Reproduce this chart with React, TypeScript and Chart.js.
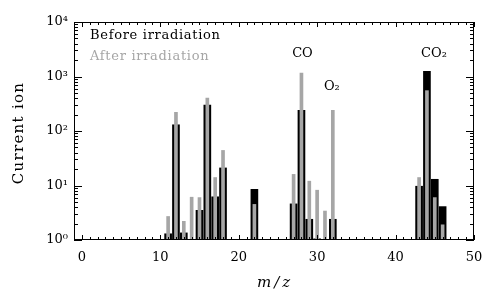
import React, { useEffect, useRef } from "react";
import { Chart, registerables } from "chart.js";

Chart.register(...registerables);

// ---- data ----
const massToCharge = [11, 12, 13, 14, 15, 16, 17, 18, 22, 27, 28, 29, 30, 31, 32, 43, 44, 45, 46];
const beforeIrradiation = [1.3, 130, 1.35, null, 3.5, 300, 6.2, 21, 8.5, 4.6, 240, 2.4, 1.05, null, 2.4, 9.7, 1250, 13, 4.1];
const afterIrradiation = [2.7, 220, 2.2, 6.1, 6, 400, 14, 44, 4.5, 16, 1150, 12, 8.2, 3.4, 240, 14, 550, 6, 1.9];
const xTickValues = [0, 10, 20, 30, 40, 50];
const yTickValues = [1, 10, 100, 1000, 10000];
const yTickLabels = ["10⁰", "10¹", "10²", "10³", "10⁴"];
const seriesNames = ["Before irradiation", "After irradiation"];
const peakLabels = ["CO", "O₂", "CO₂"];
const peakMz = [28, 32, 44];
const xTitle = "m/z";
const yTitle = "Current ion";

const GRAY = "#a6a6a6";
const FONT = "'DejaVu Serif', serif";

const decorPlugin = {
  id: "decor",
  afterDraw(chart: any) {
    const ctx: CanvasRenderingContext2D = chart.ctx;
    const a = chart.chartArea;
    const x = chart.scales.x;
    const y = chart.scales.y;
    ctx.save();
    ctx.fillStyle = "rgb(0,0,0)";
    const L = Math.round(a.left);
    const R = Math.round(a.right) - 1;
    const T = Math.round(a.top);
    const B = Math.round(a.bottom) - 1;
    // frame
    ctx.fillRect(L, T, R - L + 1, 1);
    ctx.fillRect(L, B, R - L + 1, 1);
    ctx.fillRect(L, T, 1, B - T + 1);
    ctx.fillRect(R, T, 1, B - T + 1);
    // x ticks (inward, bottom and top)
    for (let v = 0; v <= 50; v++) {
      const px = Math.round(x.getPixelForValue(v));
      const len = v % 10 === 0 ? 5 : 3;
      ctx.fillRect(px, B - len + 1, 1, len);
      ctx.fillRect(px, T, 1, len);
    }
    // y ticks (inward, left and right)
    for (let d = 0; d < 4; d++) {
      for (let k = 1; k <= 9; k++) {
        const v = k * Math.pow(10, d);
        const py = Math.round(y.getPixelForValue(v));
        const len = k === 1 ? 8 : 4;
        ctx.fillRect(L, py, len, 1);
        ctx.fillRect(R - len + 1, py, len, 1);
      }
    }

    // legend text
    ctx.textAlign = "left";
    ctx.textBaseline = "alphabetic";
    ctx.font = `13px ${FONT}`;
    (ctx as any).letterSpacing = "0.7px";
    ctx.fillStyle = "#000";
    ctx.fillText(seriesNames[0], 90, 39);
    ctx.fillStyle = GRAY;
    ctx.fillText(seriesNames[1], 90, 60);

    // peak labels
    (ctx as any).letterSpacing = "0px";
    ctx.fillStyle = "#000";
    ctx.font = `13px ${FONT}`;
    ctx.textAlign = "center";
    ctx.fillText(peakLabels[0], x.getPixelForValue(peakMz[0]) + 1, 57);
    ctx.fillText(peakLabels[1], x.getPixelForValue(peakMz[1]) - 1, 90);
    ctx.fillText(peakLabels[2], x.getPixelForValue(peakMz[2]) + 7, 57);

    // axis titles
    ctx.font = `italic 15px ${FONT}`;
    (ctx as any).letterSpacing = "3px";
    ctx.fillText(xTitle, (a.left + a.right) / 2 + 1, 287);
    ctx.font = `15px ${FONT}`;
    (ctx as any).letterSpacing = "1.3px";
    ctx.translate(23, (a.top + a.bottom) / 2 + 2);
    ctx.rotate(-Math.PI / 2);
    ctx.fillText(yTitle, 0, 0);
    ctx.restore();
  },
};

export default function App() {
  const ref = useRef<HTMLCanvasElement>(null);
  useEffect(() => {
    const chart = new Chart(ref.current as HTMLCanvasElement, {
      type: "bar",
      data: {
        datasets: [
          {
            label: seriesNames[1],
            data: massToCharge.map((m, i) => ({ x: m, y: afterIrradiation[i] })) as any,
            backgroundColor: GRAY,
            barThickness: 3,
            grouped: false,
            order: 0,
          },
          {
            label: seriesNames[0],
            data: massToCharge.map((m, i) => ({ x: m, y: beforeIrradiation[i] })) as any,
            backgroundColor: "#000",
            barThickness: 7,
            grouped: false,
            order: 1,
          },
        ],
      },
      plugins: [decorPlugin],
      options: {
        animation: false,
        responsive: false,
        events: [],
        layout: { padding: { left: 0, right: 11, top: 22, bottom: 0 } },
        plugins: { legend: { display: false }, tooltip: { enabled: false } },
        scales: {
          x: {
            type: "linear",
            min: -1,
            max: 50,
            offset: false,
            grid: { display: false, drawTicks: false, offset: false },
            border: { display: false },
            afterBuildTicks: (s: any) => {
              s.ticks = xTickValues.map((v) => ({ value: v }));
            },
            afterFit: (s: any) => {
              s.height = 51;
              s.paddingLeft = 0;
              s.paddingRight = 0;
            },
            ticks: {
              autoSkip: false,
              maxRotation: 0,
              padding: 10,
              color: "#000",
              font: { family: FONT, size: 13 },
              callback: (v: any) => String(v),
            },
          },
          y: {
            type: "logarithmic",
            min: 1,
            max: 10000,
            grid: { display: false, drawTicks: false },
            border: { display: false },
            afterBuildTicks: (s: any) => {
              s.ticks = yTickValues.map((v) => ({ value: v }));
            },
            afterFit: (s: any) => {
              s.width = 74;
            },
            ticks: {
              autoSkip: false,
              padding: 6,
              color: "#000",
              font: { family: FONT, size: 13 },
              callback: (v: any) => yTickLabels[yTickValues.indexOf(Number(v))] ?? "",
            },
          },
        },
      },
    });
    return () => chart.destroy();
  }, []);
  return (
    <div style={{ position: "fixed", left: 0, top: 0, width: 485, height: 291, background: "#fff" }}>
      <canvas ref={ref} width={485} height={291} style={{ display: "block", width: 485, height: 291 }} />
    </div>
  );
}
